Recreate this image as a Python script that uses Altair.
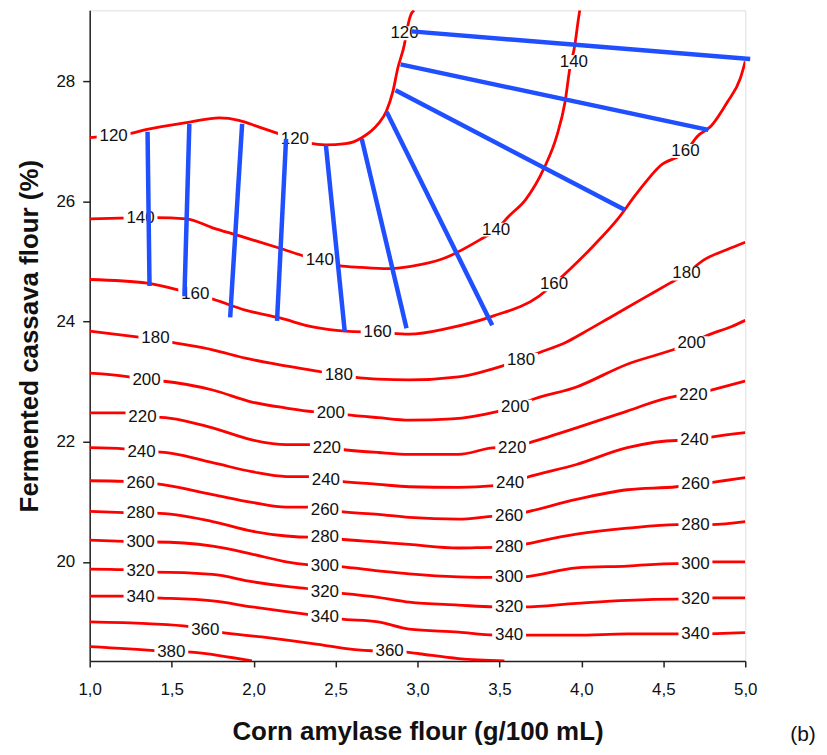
import altair as alt
import pandas as pd

# ---- contour lines (x = corn amylase flour, y = fermented cassava flour) ----
c120 = [(1.00, 27.06), (1.12, 27.09), (1.23, 27.12), (1.35, 27.20), (1.61, 27.32), (1.79, 27.39),
        (1.91, 27.35), (2.03, 27.24), (2.16, 27.12), (2.25, 27.04), (2.34, 26.97), (2.44, 26.94),
        (2.56, 26.96), (2.66, 27.06), (2.76, 27.29), (2.81, 27.50), (2.85, 27.83), (2.88, 28.22),
        (2.92, 28.61), (2.94, 28.91), (2.96, 29.11), (2.98, 29.18)]
c140 = [(1.00, 25.71), (1.40, 25.73), (1.59, 25.71), (1.75, 25.56), (1.91, 25.43), (2.16, 25.22),
        (2.32, 25.08), (2.40, 25.02), (2.52, 24.93), (2.66, 24.90), (2.82, 24.88), (2.96, 24.92),
        (3.15, 25.04), (3.38, 25.36), (3.48, 25.53), (3.56, 25.76), (3.66, 26.03), (3.77, 26.54),
        (3.85, 27.09), (3.90, 27.65), (3.93, 28.22), (3.96, 28.60), (3.98, 29.00), (3.99, 29.18)]
c160 = [(1.00, 24.70), (1.35, 24.64), (1.55, 24.52), (1.64, 24.45), (1.73, 24.39), (1.95, 24.19),
        (2.16, 24.06), (2.36, 23.91), (2.56, 23.84), (2.76, 23.82), (2.95, 23.79), (3.19, 23.89),
        (3.46, 24.09), (3.74, 24.42), (3.83, 24.62), (3.93, 24.87), (4.07, 25.25), (4.22, 25.70),
        (4.34, 26.14), (4.48, 26.59), (4.64, 26.84), (4.71, 27.09), (4.79, 27.25), (4.89, 27.65),
        (4.97, 28.05), (5.00, 28.33)]
c180 = [(1.00, 23.84), (1.30, 23.74), (1.40, 23.71), (1.49, 23.66), (1.75, 23.53), (1.95, 23.39),
        (2.16, 23.28), (2.42, 23.16), (2.52, 23.11), (2.60, 23.08), (2.76, 23.04), (2.95, 23.03),
        (3.25, 23.08), (3.54, 23.28), (3.63, 23.36), (3.72, 23.46), (3.91, 23.66), (4.01, 23.81),
        (4.17, 24.06), (4.38, 24.39), (4.54, 24.64), (4.64, 24.80), (4.75, 25.03), (4.89, 25.20),
        (5.00, 25.32)]
c200 = [(1.00, 23.14), (1.24, 23.08), (1.35, 23.03), (1.44, 23.01), (1.75, 22.86), (1.99, 22.66),
        (2.20, 22.56), (2.36, 22.50), (2.47, 22.48), (2.56, 22.45), (2.76, 22.40), (2.95, 22.36),
        (3.21, 22.38), (3.50, 22.51), (3.60, 22.58), (3.68, 22.68), (3.97, 22.91), (4.28, 23.29),
        (4.56, 23.53), (4.67, 23.64), (4.77, 23.77), (4.91, 23.91), (5.00, 24.02)]
c220 = [(1.00, 22.48), (1.23, 22.48), (1.32, 22.41), (1.41, 22.41), (1.75, 22.23), (1.99, 22.03),
        (2.20, 21.95), (2.36, 21.95), (2.45, 21.90), (2.54, 21.87), (2.76, 21.82), (2.95, 21.79),
        (3.25, 21.79), (3.48, 21.90), (3.58, 21.90), (3.68, 21.98), (3.97, 22.23), (4.28, 22.51),
        (4.58, 22.76), (4.68, 22.78), (4.78, 22.85), (5.00, 23.01)]
c240 = [(1.00, 21.90), (1.21, 21.88), (1.32, 21.83), (1.41, 21.83), (1.75, 21.65), (1.99, 21.50),
        (2.20, 21.42), (2.34, 21.42), (2.44, 21.37), (2.53, 21.34), (2.76, 21.29), (2.95, 21.25),
        (3.25, 21.24), (3.47, 21.27), (3.57, 21.32), (3.66, 21.40), (3.97, 21.62), (4.28, 21.90),
        (4.58, 22.02), (4.69, 22.02), (4.78, 22.07), (5.00, 22.15)]
c260 = [(1.00, 21.35), (1.21, 21.34), (1.31, 21.32), (1.40, 21.30), (1.75, 21.12), (1.99, 20.99),
        (2.20, 20.91), (2.34, 20.91), (2.44, 20.87), (2.52, 20.84), (2.76, 20.79), (2.95, 20.74),
        (3.25, 20.71), (3.47, 20.76), (3.56, 20.77), (3.65, 20.82), (3.97, 21.04), (4.28, 21.20),
        (4.58, 21.25), (4.70, 21.29), (4.79, 21.32), (5.00, 21.40)]
c280 = [(1.00, 20.84), (1.21, 20.82), (1.31, 20.81), (1.40, 20.81), (1.75, 20.67), (1.99, 20.51),
        (2.20, 20.43), (2.34, 20.41), (2.44, 20.41), (2.52, 20.38), (2.76, 20.33), (2.95, 20.29),
        (3.25, 20.23), (3.47, 20.24), (3.56, 20.24), (3.65, 20.29), (3.97, 20.46), (4.28, 20.56),
        (4.58, 20.62), (4.70, 20.62), (4.79, 20.62), (5.00, 20.67)]
c300 = [(1.00, 20.36), (1.21, 20.34), (1.31, 20.33), (1.40, 20.33), (1.75, 20.26), (1.99, 20.13),
        (2.20, 20.00), (2.34, 19.95), (2.44, 19.93), (2.52, 19.92), (2.76, 19.85), (2.95, 19.80),
        (3.25, 19.75), (3.47, 19.74), (3.56, 19.74), (3.65, 19.75), (3.97, 19.90), (4.28, 19.93),
        (4.58, 19.97), (4.70, 19.97), (4.79, 20.00), (5.00, 20.00)]
c320 = [(1.00, 19.88), (1.21, 19.87), (1.31, 19.83), (1.40, 19.83), (1.75, 19.79), (1.99, 19.67),
        (2.20, 19.59), (2.34, 19.55), (2.44, 19.50), (2.52, 19.48), (2.76, 19.41), (2.95, 19.33),
        (3.25, 19.28), (3.47, 19.25), (3.56, 19.25), (3.65, 19.25), (3.97, 19.31), (4.28, 19.36),
        (4.58, 19.38), (4.70, 19.38), (4.79, 19.40), (5.00, 19.40)]
c340 = [(1.00, 19.43), (1.21, 19.43), (1.31, 19.41), (1.40, 19.40), (1.75, 19.35), (1.99, 19.25),
        (2.20, 19.17), (2.34, 19.12), (2.44, 19.08), (2.52, 19.05), (2.76, 19.00), (2.95, 18.88),
        (3.25, 18.83), (3.47, 18.78), (3.56, 18.78), (3.97, 18.78), (4.28, 18.80), (4.70, 18.80),
        (5.00, 18.82)]
c360 = [(1.00, 19.00), (1.35, 18.97), (1.61, 18.92), (1.71, 18.87), (1.79, 18.83), (2.05, 18.75),
        (2.36, 18.64), (2.72, 18.52), (2.83, 18.52), (2.92, 18.50), (3.01, 18.47), (3.25, 18.39),
        (3.53, 18.35)]
c380 = [(1.00, 18.59), (1.41, 18.52), (1.50, 18.50), (1.59, 18.50), (1.79, 18.44), (1.99, 18.35)]

levels = [120, 140, 160, 180, 200, 220, 240, 260, 280, 300, 320, 340, 360, 380]
lines = [c120, c140, c160, c180, c200, c220, c240, c260, c280, c300, c320, c340, c360, c380]

# ---- contour labels ----
label_val = [120, 120, 120,
             140, 140, 140, 140,
             160, 160, 160, 160,
             180, 180, 180, 180,
             200, 200, 200, 200,
             220, 220, 220, 220,
             240, 240, 240, 240,
             260, 260, 260, 260,
             280, 280, 280, 280,
             300, 300, 300, 300,
             320, 320, 320, 320,
             340, 340, 340, 340,
             360, 360, 380]
label_x = [1.146, 2.252, 2.921,
           1.310, 2.404, 3.480, 3.954,
           1.644, 2.757, 3.833, 4.635,
           1.401, 2.520, 3.632, 4.641,
           1.347, 2.471, 3.596, 4.672,
           1.322, 2.447, 3.578, 4.684,
           1.316, 2.441, 3.565, 4.690,
           1.310, 2.435, 3.559, 4.696,
           1.310, 2.435, 3.559, 4.696,
           1.310, 2.435, 3.559, 4.696,
           1.310, 2.435, 3.559, 4.696,
           1.310, 2.435, 3.559, 4.696,
           1.705, 2.830, 1.498]
label_y = [27.09, 27.04, 28.80,
           25.73, 25.02, 25.53, 28.32,
           24.45, 23.82, 24.62, 26.84,
           23.72, 23.11, 23.36, 24.80,
           23.03, 22.48, 22.58, 23.64,
           22.41, 21.90, 21.90, 22.78,
           21.83, 21.37, 21.32, 22.02,
           21.32, 20.87, 20.77, 21.29,
           20.81, 20.41, 20.24, 20.62,
           20.33, 19.93, 19.74, 19.97,
           19.85, 19.50, 19.25, 19.38,
           19.41, 19.08, 18.78, 18.80,
           18.87, 18.52, 18.50]

# ---- blue segments ----
blue_x1 = [1.353, 1.608, 1.930, 2.198, 2.441, 2.660, 2.812, 2.866, 2.897, 2.964]
blue_y1 = [27.16, 27.29, 27.29, 27.04, 26.94, 27.04, 27.49, 27.85, 28.28, 28.83]
blue_x2 = [1.365, 1.578, 1.857, 2.143, 2.556, 2.933, 3.456, 4.264, 4.775, 5.030]
blue_y2 = [24.59, 24.42, 24.07, 24.01, 23.84, 23.89, 23.94, 25.86, 27.19, 28.37]

X_DOMAIN = [1.0, 5.0]
Y_DOMAIN = [18.35, 29.18]

rows = []
for lev, pts in zip(levels, lines):
    for i, (x, y) in enumerate(pts):
        rows.append({"level": lev, "i": i, "x": x, "y": y})
line_df = pd.DataFrame(rows)
label_df = pd.DataFrame({"x": label_x, "y": label_y, "t": [str(v) for v in label_val]})
blue_df = pd.DataFrame({"x": blue_x1, "y": blue_y1, "x2": blue_x2, "y2": blue_y2})

FONT = "Liberation Sans, Arial, Helvetica, sans-serif"

xs = alt.Scale(domain=X_DOMAIN, nice=False, zero=False)
ys = alt.Scale(domain=Y_DOMAIN, nice=False, zero=False)

x_axis = alt.Axis(
    values=[1.0, 1.5, 2.0, 2.5, 3.0, 3.5, 4.0, 4.5, 5.0],
    labelExpr="replace(format(datum.value, '.1f'), '.', ',')",
    labelFlush=False,
    title="Corn amylase flour (g/100 mL)",
    grid=False, tickSize=6, tickWidth=1.5, tickColor="#222", domainColor="#222", domainWidth=1.5,
    labelFont=FONT, labelFontSize=17, labelColor="#111", labelPadding=15,
    titleFont=FONT, titleFontSize=26, titleFontWeight="bold", titleColor="#111",
    titleY=79, titleBaseline="alphabetic",
)
y_axis = alt.Axis(
    values=[20, 22, 24, 26, 28],
    format="d",
    labelFlush=False,
    title="Fermented cassava flour (%)",
    grid=False, tickSize=7, tickWidth=1.5, tickColor="#222", domainColor="#222", domainWidth=1.5,
    labelFont=FONT, labelFontSize=17, labelColor="#111", labelPadding=8,
    titleFont=FONT, titleFontSize=26, titleFontWeight="bold", titleColor="#111",
    titleX=-52, titleBaseline="alphabetic",
)

red = alt.Chart(line_df).mark_line(
    color="#ff0000", strokeWidth=2.8, clip=True, interpolate="monotone"
).encode(
    x=alt.X("x:Q", scale=xs, axis=x_axis),
    y=alt.Y("y:Q", scale=ys, axis=y_axis),
    detail="level:N",
    order="i:Q",
)

boxes = alt.Chart(label_df).mark_point(
    shape="M-1.7,-0.7H1.7V0.7H-1.7Z", filled=True, fill="white", opacity=1, size=400, strokeWidth=0
).encode(x=alt.X("x:Q", scale=xs), y=alt.Y("y:Q", scale=ys))

texts = alt.Chart(label_df).mark_text(
    font=FONT, fontSize=17, color="#111", align="center", baseline="middle"
).encode(x=alt.X("x:Q", scale=xs), y=alt.Y("y:Q", scale=ys), text="t:N")

blue = alt.Chart(blue_df).mark_rule(color="#1f4fff", strokeWidth=4.5).encode(
    x=alt.X("x:Q", scale=xs), y=alt.Y("y:Q", scale=ys), x2="x2:Q", y2="y2:Q"
)

tag = alt.Chart(pd.DataFrame({"t": ["(b)"]})).mark_text(
    font=FONT, fontSize=21, color="#111", align="center", baseline="alphabetic"
).encode(text="t:N", x=alt.value(716), y=alt.value(733))

chart = alt.layer(red, boxes, texts, blue, tag).properties(
    width=658, height=653,
    autosize=alt.AutoSizeParams(type="none"),
    padding={"left": 82, "top": 1, "right": 74, "bottom": 85},
).configure_view(stroke="#222", strokeWidth=1.5).configure(background="white")

chart.save("out.html", embed_options={"renderer": "svg", "actions": False})
